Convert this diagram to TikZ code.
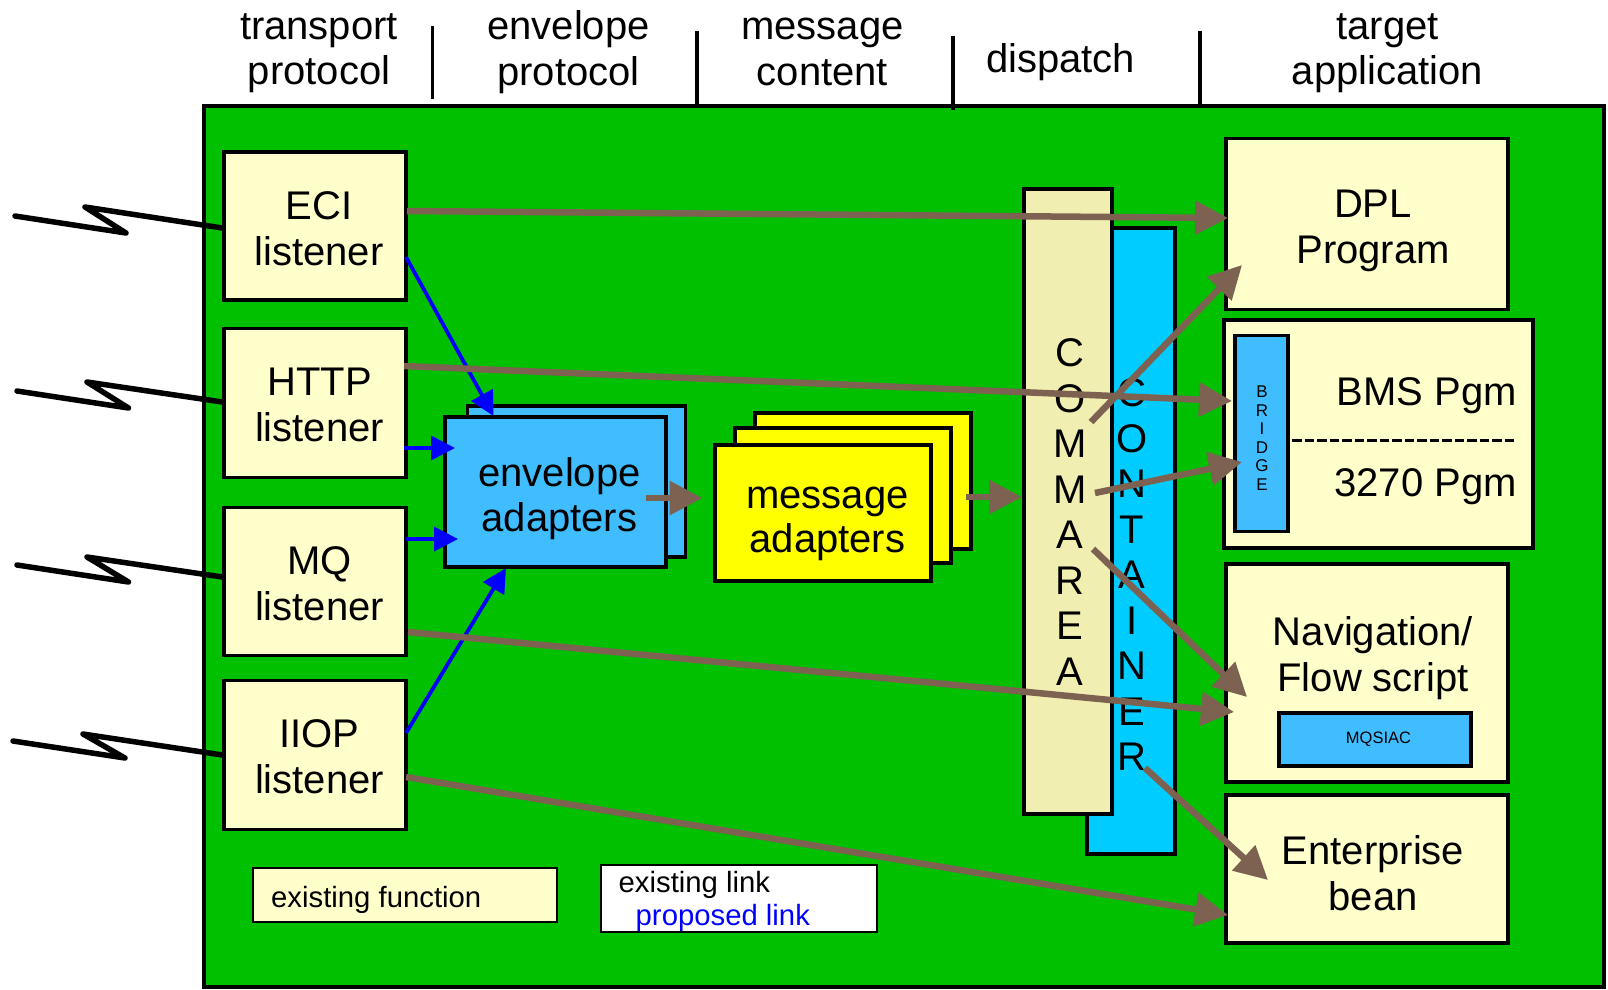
\documentclass[tikz,border=0pt]{standalone}
\usepackage{fontspec}
\setmainfont{Liberation Sans}
\usetikzlibrary{arrows.meta}
\definecolor{mygreen}{HTML}{00C000}
\definecolor{cream}{HTML}{FFFFCC}
\definecolor{skyb}{HTML}{40BDFF}
\definecolor{contb}{HTML}{00CCFF}
\definecolor{commc}{HTML}{F0EEB0}
\definecolor{brownl}{HTML}{7E6251}
\definecolor{linkb}{HTML}{0000FF}
\definecolor{myyel}{RGB}{255,255,0}
\tikzset{
  x=1pt,y=-1pt,
  box/.style={draw=black,line width=3.4pt,inner sep=0pt,rectangle,line join=miter},
  cbox/.style={box,fill=cream},
  ebox/.style={box,fill=skyb},
  ybox/.style={box,fill=myyel},
  lgbox/.style={box,line width=2.2pt},
  txt/.style={inner sep=0pt,align=center,font=\fontsize{40}{45.5}\selectfont},
  ltxt/.style={txt,font=\fontsize{40}{46}\selectfont},
  lgtxt/.style={inner sep=0pt,align=left,anchor=west,font=\fontsize{29.3}{33}\selectfont},
  sep/.style={draw=black,line width=3.6pt},
  zig/.style={draw=black,line width=5.5pt,line join=round,line cap=round},
  barrow/.style={draw=brownl,line width=6.5pt,-{Triangle[length=33pt,width=33pt]}},
  blarrow/.style={draw=linkb,line width=3.8pt,-{Triangle[length=24pt,width=24pt]}}
}
\begin{document}
\begin{tikzpicture}
\useasboundingbox (0,0) rectangle (1608,989);
% background panel
\node[box,fill=mygreen,minimum width=1400pt,minimum height=881pt] (panel) at (904,546.5) {};
% header
\node[txt] (h1) at (319,53) {transport\\protocol};
\node[txt] (h2) at (568.5,52) {envelope\\protocol};
\node[txt] (h3) at (822.5,52) {message\\content};
\node[txt] (h4) at (1060.5,62) {dispatch};
\node[txt] (h5) at (1387.5,53) {target\\application};
\coordinate (s1a) at (432.5,26); \coordinate (s1b) at (432.5,99);
\coordinate (s2a) at (697,31); \coordinate (s2b) at (697,106);
\coordinate (s3a) at (953,36); \coordinate (s3b) at (953,110);
\coordinate (s4a) at (1200,31); \coordinate (s4b) at (1200,106);
\draw[sep] (s1a) -- (s1b);
\draw[sep] (s2a) -- (s2b);
\draw[sep] (s3a) -- (s3b);
\draw[sep] (s4a) -- (s4b);
% listeners
\node[cbox,minimum width=182pt,minimum height=148pt] (eci) at (315,226) {};
\node[cbox,minimum width=182pt,minimum height=149pt] (http) at (315,403) {};
\node[cbox,minimum width=182pt,minimum height=148pt] (mq) at (315,581.5) {};
\node[cbox,minimum width=182pt,minimum height=149pt] (iiop) at (315,755) {};
\node[ltxt] (ecit) at (319,228.5) {ECI\\listener};
\node[ltxt] (httpt) at (319.5,405) {HTTP\\listener};
\node[ltxt] (mqt) at (319.5,584) {MQ\\listener};
\node[ltxt] (iiopt) at (319.5,757) {IIOP\\listener};
% lightning
\coordinate (z1a) at (15,216); \coordinate (z1b) at (126,233); \coordinate (z1c) at (85,207);
\coordinate (z2a) at (17,391); \coordinate (z2b) at (128.5,408); \coordinate (z2c) at (87,382);
\coordinate (z3a) at (17,565); \coordinate (z3b) at (128.5,582); \coordinate (z3c) at (87,557);
\coordinate (z4a) at (13,741); \coordinate (z4b) at (125,758); \coordinate (z4c) at (83,734);
\draw[zig] (z1a) -- (z1b) -- (z1c) -- (eci.west |- 0,228);
\draw[zig] (z2a) -- (z2b) -- (z2c) -- (http.west |- 0,402);
\draw[zig] (z3a) -- (z3b) -- (z3c) -- (mq.west |- 0,577);
\draw[zig] (z4a) -- (z4b) -- (z4c) -- (iiop.west |- 0,755);
% envelope adapters
\node[ebox,minimum width=218pt,minimum height=151pt] (envb) at (576.5,481.5) {};
\node[ebox,minimum width=221pt,minimum height=150pt] (env) at (555.5,492) {};
\node[txt] (envt) at (559.5,498.5) {envelope\\adapters};
% message adapters
\node[ybox,minimum width=216pt,minimum height=136pt] (msgb) at (863,481) {};
\node[ybox,minimum width=216pt,minimum height=135pt] (msgm) at (843,495.5) {};
\node[ybox,minimum width=216pt,minimum height=136pt] (msg) at (823,513) {};
\node[txt,font=\fontsize{40}{44}\selectfont] (msgt) at (827.5,523.5) {message\\adapters};
% container and commarea
\node[box,fill=contb,minimum width=88pt,minimum height=626pt] (cont) at (1131,541) {};
\node[box,fill=commc,minimum width=88pt,minimum height=625pt] (comm) at (1068,501.5) {};
\node[txt] (contt) at (1132,575) {C\\O\\N\\T\\A\\I\\N\\E\\R};
\node[txt] (commt) at (1070,512) {C\\O\\M\\M\\A\\R\\E\\A};
% targets
\node[cbox,minimum width=282pt,minimum height=171pt] (dpl) at (1367,224) {};
\node[txt] (dplt) at (1373,231) {DPL\\Program};
\node[cbox,minimum width=309pt,minimum height=228pt] (bms) at (1378.5,434) {};
\node[box,fill=skyb,minimum width=53pt,minimum height=196pt] (bridge) at (1261.5,433.5) {};
\node[inner sep=0pt,align=center,font=\fontsize{17}{18.5}\selectfont] (bridget) at (1262,438) {B\\R\\I\\D\\G\\E};
\node[txt,anchor=east] (bmst) at (1517,396) {BMS Pgm};
\node[txt,anchor=east] (pgmt) at (1517,487) {3270 Pgm};
\coordinate (da) at (1292,440); \coordinate (db) at (1516,440);
\draw[draw=black,line width=3pt,dash pattern=on 9.6pt off 2.9pt] (da) -- (db);
\node[cbox,minimum width=282pt,minimum height=218pt] (nav) at (1367,673) {};
\node[txt] (navt) at (1373,658) {Navigation/\\Flow script};
\node[ebox,minimum width=192pt,minimum height=53pt] (mqs) at (1375,739.5) {};
\node[inner sep=0pt,font=\fontsize{16.5}{18}\selectfont] (mqst) at (1378.5,739.5) {MQSIAC};
\node[cbox,minimum width=282pt,minimum height=148pt] (ejb) at (1367,869) {};
\node[txt] (ejbt) at (1373,873) {Enterprise\\bean};
% legend
\node[lgbox,fill=cream,minimum width=304pt,minimum height=54pt] (lg1) at (405,895) {};
\node[lgtxt] (lg1t) at (271,900) {existing function};
\node[lgbox,fill=white,minimum width=276pt,minimum height=67pt] (lg2) at (739,898.5) {};
\node[lgtxt] (lg2t) at (618.5,901) {existing link\\\hspace*{17pt}\textcolor{linkb}{proposed link}};
% blue links
\coordinate (b1a) at (406,257); \coordinate (b1b) at (493.5,416);
\coordinate (b2a) at (404,448); \coordinate (b2b) at (455,448);
\coordinate (b3a) at (406,539); \coordinate (b3b) at (458,539);
\coordinate (b4a) at (406,733); \coordinate (b4b) at (506,568);
\draw[blarrow] (b1a) -- (b1b);
\draw[blarrow] (b2a) -- (b2b);
\draw[blarrow] (b3a) -- (b3b);
\draw[blarrow] (b4a) -- (b4b);
% brown links
\coordinate (a1a) at (407,211); \coordinate (a1b) at (1228,218);
\coordinate (a2a) at (404,366); \coordinate (a2b) at (1232,401);
\coordinate (a3a) at (408,632); \coordinate (a3b) at (1234,712);
\coordinate (a4a) at (406,777); \coordinate (a4b) at (1228,915);
\coordinate (a5a) at (1091,422); \coordinate (a5b) at (1242,265);
\coordinate (a6a) at (1095,493); \coordinate (a6b) at (1242,462);
\coordinate (a7a) at (1093,549); \coordinate (a7b) at (1247,697);
\coordinate (a8a) at (1145,768); \coordinate (a8b) at (1268,880);
\coordinate (a9a) at (646,498); \coordinate (a9b) at (702.5,498);
\coordinate (a10a) at (966,497); \coordinate (a10b) at (1022,497);
\draw[barrow] (a1a) -- (a1b);
\draw[barrow] (a2a) -- (a2b);
\draw[barrow] (a3a) -- (a3b);
\draw[barrow] (a4a) -- (a4b);
\draw[barrow] (a5a) -- (a5b);
\draw[barrow] (a6a) -- (a6b);
\draw[barrow] (a7a) -- (a7b);
\draw[barrow] (a8a) -- (a8b);
\draw[barrow] (a9a) -- (a9b);
\draw[barrow] (a10a) -- (a10b);
\end{tikzpicture}
\end{document}
